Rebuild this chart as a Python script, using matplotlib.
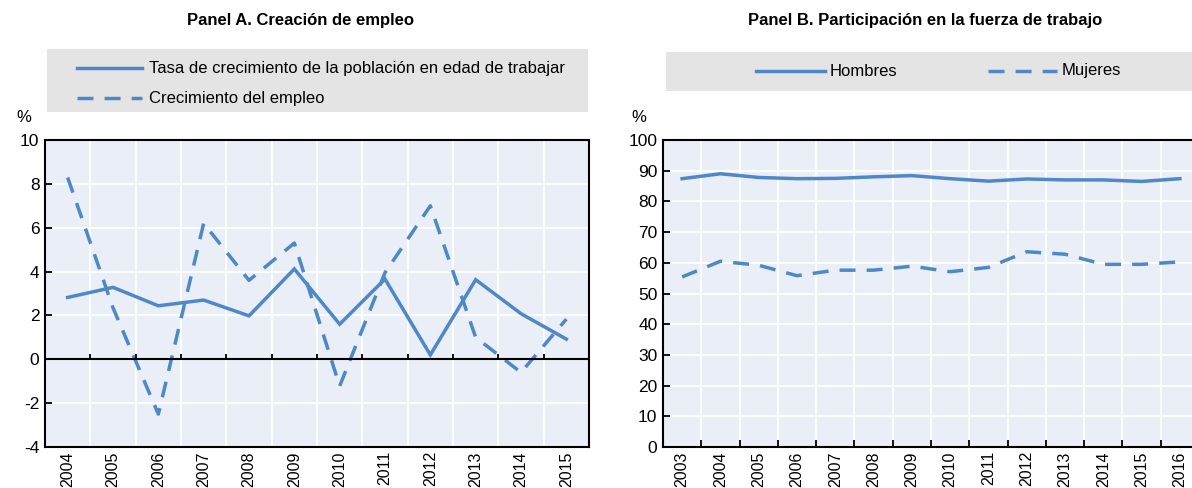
import numpy as np
import matplotlib.pyplot as plt
from matplotlib.patches import Rectangle
from matplotlib.lines import Line2D

plt.rcParams['font.family'] = ['Liberation Sans Narrow', 'Liberation Sans', 'DejaVu Sans']
plt.rcParams['axes.unicode_minus'] = False

# Panel A: creación de empleo (%)
years_a = ["2004", "2005", "2006", "2007", "2008", "2009", "2010", "2011", "2012", "2013", "2014", "2015"]
pob_edad_trabajar = [2.82, 3.28, 2.44, 2.70, 1.98, 4.12, 1.60, 3.66, 0.20, 3.63, 2.08, 0.92]
crec_empleo = [8.29, 2.35, -2.50, 6.20, 3.60, 5.30, -1.22, 3.95, 7.00, 1.00, -0.60, 1.83]

# Panel B: participación en la fuerza de trabajo (%)
years_b = ["2003", "2004", "2005", "2006", "2007", "2008", "2009", "2010", "2011", "2012", "2013", "2014", "2015", "2016"]
hombres = [87.4, 89.0, 87.8, 87.4, 87.5, 88.0, 88.4, 87.4, 86.6, 87.3, 87.0, 87.0, 86.5, 87.4]
mujeres = [55.4, 60.5, 59.2, 55.8, 57.6, 57.6, 58.9, 57.1, 58.5, 63.6, 62.8, 59.5, 59.5, 60.3]

blue = "#4e88c7"
bg = "#e9eef7"
legend_bg = "#e4e4e4"
dash = (0, (4.6, 3.2))

W, H = 1192, 488
fig = plt.figure(figsize=(W / 100, H / 100), dpi=100)


def style_axes(ax, n, ymin, ymax, step):
    ax.set_facecolor(bg)
    ax.set_xlim(-0.5, n - 0.5)
    ax.set_ylim(ymin, ymax)
    ax.set_yticks(np.arange(ymin, ymax + 0.1, step))
    ax.set_xticks(np.arange(n))
    ax.set_xticks(np.arange(n - 1) + 0.5, minor=True)
    ax.grid(True, which="minor", axis="x", color="white", lw=1.3)
    ax.grid(True, which="major", axis="y", color="white", lw=1.3)
    ax.set_axisbelow(True)
    for s in ax.spines.values():
        s.set_color("black")
        s.set_linewidth(1.5)
    ax.tick_params(axis="x", which="major", length=0, labelrotation=90, labelsize=11.5, pad=3)
    ax.tick_params(axis="x", which="minor", length=0)
    ax.tick_params(axis="y", direction="in", length=5, width=1.3, labelsize=12.5, pad=4)


# ---- Panel A ----
axA = fig.add_axes([45 / W, 1 - 447 / H, 544 / W, 307 / H])
style_axes(axA, len(years_a), -4, 10, 2)
axA.set_xticklabels(years_a)
x_a = np.arange(len(years_a))
axA.plot(x_a, pob_edad_trabajar, color=blue, lw=2.5, solid_joinstyle="miter")
axA.plot(x_a, crec_empleo, color=blue, lw=2.5, linestyle=dash)
axA.axhline(0, color="black", lw=1.5)
axA.vlines(np.arange(len(years_a) - 1) + 0.5, 0, 0.22, color="black", lw=1.3)

fig.text(300 / W, 1 - 21 / H, "Panel A. Creación de empleo", ha="center", va="center",
         fontsize=12, fontweight="bold")
fig.text(24 / W, 1 - 117 / H, "%", ha="center", va="center", fontsize=12)
fig.patches.append(Rectangle((47 / W, 1 - 112 / H), 541 / W, 63 / H, transform=fig.transFigure,
                             facecolor=legend_bg, edgecolor="none"))
fig.lines.append(Line2D([77 / W, 142 / W], [1 - 68 / H, 1 - 68 / H], transform=fig.transFigure,
                        color=blue, lw=2.5))
fig.lines.append(Line2D([77 / W, 142 / W], [1 - 98 / H, 1 - 98 / H], transform=fig.transFigure,
                        color=blue, lw=2.5, linestyle=dash))
fig.text(149 / W, 1 - 68 / H, "Tasa de crecimiento de la población en edad de trabajar",
         ha="left", va="center", fontsize=12)
fig.text(149 / W, 1 - 98 / H, "Crecimiento del empleo", ha="left", va="center", fontsize=12)

# ---- Panel B ----
axB = fig.add_axes([663 / W, 1 - 447 / H, 536 / W, 307 / H])
style_axes(axB, len(years_b), 0, 100, 10)
axB.set_xticklabels(years_b)
axB.tick_params(axis="x", which="minor", direction="in", length=5, width=1.3)
x_b = np.arange(len(years_b))
axB.plot(x_b, hombres, color=blue, lw=2.5)
axB.plot(x_b, mujeres, color=blue, lw=2.5, linestyle=dash)

fig.text(925 / W, 1 - 21 / H, "Panel B. Participación en la fuerza de trabajo", ha="center",
         va="center", fontsize=12, fontweight="bold")
fig.text(639 / W, 1 - 117 / H, "%", ha="center", va="center", fontsize=12)
fig.patches.append(Rectangle((666 / W, 1 - 91 / H), 526 / W, 39 / H, transform=fig.transFigure,
                             facecolor=legend_bg, edgecolor="none"))
fig.lines.append(Line2D([756 / W, 825 / W], [1 - 71 / H, 1 - 71 / H], transform=fig.transFigure,
                        color=blue, lw=2.5))
fig.lines.append(Line2D([988 / W, 1057 / W], [1 - 71 / H, 1 - 71 / H], transform=fig.transFigure,
                        color=blue, lw=2.5, linestyle=dash))
fig.text(830 / W, 1 - 71 / H, "Hombres", ha="left", va="center", fontsize=12)
fig.text(1062 / W, 1 - 71 / H, "Mujeres", ha="left", va="center", fontsize=12)

fig.savefig("out.png", dpi=100)
